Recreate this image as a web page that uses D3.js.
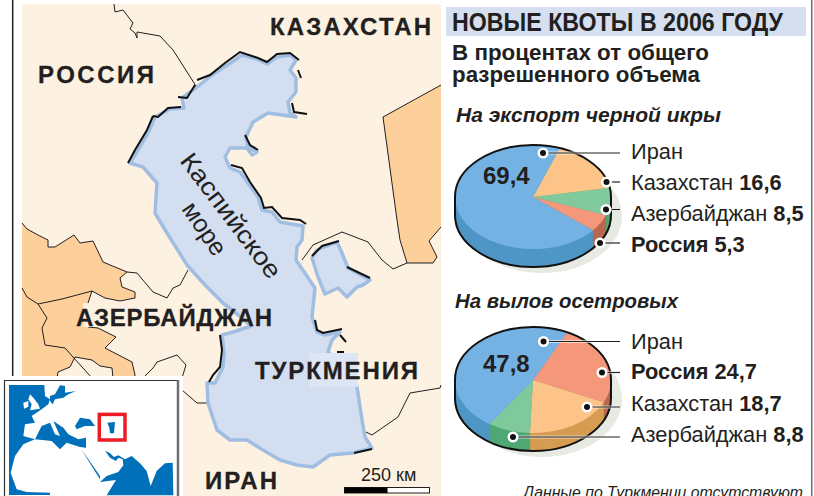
<!DOCTYPE html>
<html>
<head>
<meta charset="utf-8">
<script src="https://cdn.jsdelivr.net/npm/d3@7"></script>
<style>
html, body { margin: 0; padding: 0; background: #fff; }
svg { display: block; font-family: "Liberation Sans", Arial, sans-serif; }
</style>
</head>
<body>
<div id="chart"></div>
<script>
// data
const exportCountries = ["Казахстан", "Азербайджан", "Россия", "Иран"];
const exportValues = [16.6, 8.5, 5.3, 69.4];
const exportRows = ["Иран", "Казахстан", "Азербайджан", "Россия"];

const fishingCountries = ["Россия", "Казахстан", "Азербайджан", "Иран"];
const fishingValues = [24.7, 18.7, 8.8, 47.8];
const fishingRows = ["Иран", "Россия", "Казахстан", "Азербайджан"];

const countryNames = ["Иран", "Казахстан", "Азербайджан", "Россия"];
const topColors = ["#74b2e3", "#fcc488", "#80c99c", "#f5977a"];
const sideColors = ["#4f97c6", "#d69c52", "#4fa874", "#b9674f"];

// map outlines, page pixels
const sea = [[242,55],[257,59],[267,64],[277,57],[290,55],[296,60],[290,70],[296,78],[296,92],[288,102],[290,113],[296,117],[268,113],[253,122],[246,137],[248,147],[257,152],[252,155],[247,148],[230,148],[225,157],[230,168],[240,172],[248,183],[258,197],[262,210],[272,212],[280,222],[303,226],[302,240],[297,247],[296,260],[315,288],[312,317],[317,332],[325,335],[340,332],[332,340],[328,352],[333,357],[348,355],[357,387],[362,420],[365,437],[372,448],[353,453],[330,455],[313,467],[297,465],[280,460],[263,450],[247,440],[230,440],[217,430],[208,403],[207,383],[215,383],[223,367],[224,353],[222,335],[233,332],[251,326],[237,314],[223,303],[205,285],[187,265],[167,233],[155,213],[157,183],[143,167],[130,163],[135,155],[149,131],[155,117],[170,109],[184,108],[182,98],[197,87],[212,75],[229,64]];
const bay = [[312,258],[317,250],[337,242],[342,253],[348,268],[370,280],[363,285],[357,287],[347,297],[338,288],[325,294],[318,277]];
const uzbekistan = [[441,85],[383,117],[397,220],[400,240],[407,263],[433,263],[437,257],[429,241],[441,227]];
const caucasus = [[22,223],[27,229],[38,235],[48,240],[48,247],[55,247],[74,235],[80,243],[93,241],[103,262],[127,272],[120,278],[122,287],[135,292],[135,298],[120,301],[105,298],[92,291],[88,303],[88,327],[98,328],[116,337],[105,348],[132,362],[135,375],[135,378],[113,378],[112,368],[100,366],[92,360],[75,357],[70,367],[58,372],[57,378],[22,378]];
const borders = [
  [[114,4],[115,12],[123,10],[133,23],[130,29],[135,33],[137,38],[137,32],[160,36],[173,50],[196,86]],
  [[127,272],[137,273],[153,292],[167,298],[173,288],[180,285],[188,270]],
  [[22,288],[27,297],[38,304],[62,299],[92,291]],
  [[38,304],[47,318],[42,328],[45,345],[65,348],[73,357],[92,378]],
  [[145,376],[153,368],[157,362],[177,355],[186,365],[182,378]],
  [[182,390],[197,403],[207,403]],
  [[302,260],[313,245],[342,232],[368,242],[382,260],[393,269],[407,263]],
  [[366,432],[372,435],[398,417],[410,393],[440,388],[441,385]]
];
const blackCoast = [
  [[128,163],[135,150],[147,130],[153,116]],
  [[153,116],[158,117],[168,108],[181,107]],
  [[178,97],[187,98],[195,85]],
  [[197,80],[210,75],[225,63],[240,52],[258,58],[267,62],[277,54],[290,53],[299,60]],
  [[298,70],[301,78]],
  [[292,103],[294,112],[307,114]],
  [[231,165],[242,168],[250,182],[261,198],[264,208],[272,207],[282,218],[300,220],[306,224]],
  [[245,135],[250,145],[258,150]],
  [[220,335],[222,350],[220,367],[213,375],[209,382]],
  [[315,320],[317,330],[323,333],[342,329]],
  [[340,335],[346,342]],
  [[337,352],[344,352]],
  [[312,256],[322,246],[339,241]],
  [[347,267],[370,278]],
  [[354,453],[372,449]]
];

// inset outlines, crop units (3x)
const insetSeas = [
  [[27,27],[133,27],[135,60],[150,70],[145,85],[125,100],[95,120],[105,140],[75,145],[70,180],[105,190],[70,205],[45,240],[32,290],[50,340],[80,348],[150,350],[150,357],[27,357]],
  [[150,60],[165,55],[180,28],[195,30],[195,50],[228,45],[205,55],[190,65],[165,70],[158,85],[150,75]],
  [[105,190],[125,150],[150,140],[165,175],[180,180],[160,135],[190,155],[205,175],[235,190],[258,185],[258,215],[240,213],[200,200],[180,220],[155,195]],
  [[225,150],[240,125],[270,130],[285,150],[255,150],[230,160]],
  [[245,222],[265,250],[300,300],[300,310],[275,270]],
  [[300,318],[320,300],[355,288],[370,268],[368,250],[355,245],[348,255],[330,245],[315,224],[330,232],[342,243],[355,238],[375,250],[395,240],[420,262],[440,285],[452,330],[470,285],[495,262],[518,260],[520,358],[320,358],[348,312]],
  [[322,140],[345,138],[342,172],[330,172],[328,155]]
];
const insetWhites = [
  [[90,55],[100,65],[115,85],[120,98],[90,103],[95,85],[85,70]],
  [[70,80],[85,75],[85,92],[72,98]]
];

const W = 814, H = 496;
const svg = d3.select("#chart").append("svg").attr("width", W).attr("height", H);
const ink = "#231f20";
const peach = "#fdf1e2", orange = "#fdd09b";
const line = d3.line();
const closed = d3.line().curve(d3.curveLinearClosed);

// map
const map = svg.append("g");
map.append("rect").attr("x", 22).attr("y", 4).attr("width", 419).attr("height", 492).attr("fill", peach);
map.append("path").attr("d", closed(uzbekistan)).attr("fill", orange);
map.append("path").attr("d", line(uzbekistan)).attr("fill", "none").attr("stroke", ink).attr("stroke-width", 1);
map.append("path").attr("d", closed(caucasus)).attr("fill", orange);
map.append("path").attr("d", line(caucasus.slice(0, -1))).attr("fill", "none").attr("stroke", ink).attr("stroke-width", 1);
map.selectAll("path.border").data(borders).enter().append("path").attr("class", "border")
  .attr("d", line).attr("fill", "none").attr("stroke", ink).attr("stroke-width", 1);

// halo under the label on the orange part
map.append("rect").attr("x", 83).attr("y", 303).attr("width", 150).attr("height", 24).attr("fill", peach);

map.selectAll("path.sea").data([sea, bay]).enter().append("path").attr("class", "sea")
  .attr("d", closed).attr("fill", "#d3dff1").attr("stroke", "#a0bde2").attr("stroke-width", 3.5).attr("stroke-linejoin", "round");
map.selectAll("path.coast").data(blackCoast).enter().append("path").attr("class", "coast")
  .attr("d", line).attr("fill", "none").attr("stroke", "#111").attr("stroke-width", 2);
map.append("rect").attr("x", 310).attr("y", 353).attr("width", 48).attr("height", 34).attr("fill", "#dde6f4");

map.append("line").attr("x1", 12.7).attr("x2", 12.7).attr("y1", 0).attr("y2", 376)
  .attr("stroke", ink).attr("stroke-width", 1.5);
svg.append("line").attr("x1", 811.7).attr("x2", 811.7).attr("y1", 0).attr("y2", H)
  .attr("stroke", "#6d6e71").attr("stroke-width", 1.5);

// map labels
const mapLabels = [
  ["КАЗАХСТАН", 270, 35, 161],
  ["РОССИЯ", 38, 83, 116],
  ["АЗЕРБАЙДЖАН", 76, 326, 196],
  ["ТУРКМЕНИЯ", 255, 379, 163],
  ["ИРАН", 205, 489, 72]
];
map.selectAll("text.country").data(mapLabels).enter().append("text").attr("class", "country")
  .attr("x", d => d[1]).attr("y", d => d[2]).attr("textLength", d => d[3]).attr("lengthAdjust", "spacing")
  .attr("font-size", 24).attr("font-weight", 700).attr("fill", ink).attr("stroke", ink).attr("stroke-width", 0.3).text(d => d[0]);

map.append("text").attr("transform", "translate(179,161) rotate(53)")
  .attr("font-size", 25).attr("fill", ink).attr("textLength", 150).attr("lengthAdjust", "spacingAndGlyphs").text("Каспийское");
map.append("text").attr("transform", "translate(181,209) rotate(56)")
  .attr("font-size", 25).attr("fill", ink).attr("textLength", 59).attr("lengthAdjust", "spacingAndGlyphs").text("море");

// scale bar
map.append("text").attr("x", 361).attr("y", 481).attr("font-size", 18).attr("fill", ink).text("250 км");
map.append("rect").attr("x", 344.5).attr("y", 487.5).attr("width", 85).attr("height", 5.5)
  .attr("fill", "#fff").attr("stroke", ink).attr("stroke-width", 1);
map.append("rect").attr("x", 344.5).attr("y", 487.5).attr("width", 43).attr("height", 5.5).attr("fill", "#000");

// locator inset
const inset = svg.append("g");
const ix = d3.scaleLinear().domain([0, 300]).range([0, 100]);
const iy = d3.scaleLinear().domain([0, 300]).range([376, 476]);
const insetLine = d3.line().x(d => ix(d[0])).y(d => iy(d[1])).curve(d3.curveLinearClosed);
inset.append("rect").attr("x", 0).attr("y", 376).attr("width", 183).attr("height", 120).attr("fill", "#fff");
inset.append("path").attr("d", `M4.5,496V380.5H178`).attr("fill", "none").attr("stroke", "#333").attr("stroke-width", 1.2);
inset.append("path").attr("d", `M178,380V496`).attr("fill", "none").attr("stroke", "#6d6e71").attr("stroke-width", 2.5);
inset.selectAll("path.isea").data(insetSeas).enter().append("path").attr("class", "isea")
  .attr("d", insetLine).attr("fill", "#0070ba");
inset.selectAll("path.iland").data(insetWhites).enter().append("path").attr("class", "iland")
  .attr("d", insetLine).attr("fill", "#fff");
inset.append("rect").attr("x", 99.3).attr("y", 414.4).attr("width", 25.7).attr("height", 25.6)
  .attr("fill", "none").attr("stroke", "#ed1c24").attr("stroke-width", 3.5);

// header
svg.append("rect").attr("x", 446).attr("y", 7).attr("width", 360).attr("height", 29).attr("fill", "#d5dff0");
const heads = [
  ["НОВЫЕ КВОТЫ В 2006 ГОДУ", 452, 31, 331, 25, "normal"],
  ["В процентах от общего", 452, 60, 257, 22, "normal"],
  ["разрешенного объема", 452, 82, 248, 22, "normal"],
  ["На экспорт черной икры", 456, 122, 265, 20, "italic"],
  ["На вылов осетровых", 455, 308, 223, 20, "italic"]
];
svg.selectAll("text.head").data(heads).enter().append("text").attr("class", "head")
  .attr("x", d => d[1]).attr("y", d => d[2]).attr("textLength", d => d[3]).attr("lengthAdjust", "spacingAndGlyphs")
  .attr("font-size", d => d[4]).attr("font-style", d => d[5]).attr("font-weight", 700)
  .attr("fill", ink).text(d => d[0]);
svg.append("text").attr("x", 523).attr("y", 498).attr("font-size", 17).attr("font-style", "italic")
  .attr("textLength", 280).attr("lengthAdjust", "spacingAndGlyphs").attr("fill", ink).text("Данные по Туркмении отсутствуют");

// pies
const topColor = d3.scaleOrdinal(countryNames, topColors);
const sideColor = d3.scaleOrdinal(countryNames, sideColors);
const comma = v => String(v).replace(".", ",");

function drawPie(cfg) {
  const rx = 78, ry = cfg.ry, depth = cfg.depth;
  const g = svg.append("g");
  const start = cfg.startDeg * Math.PI / 180;
  const slices = d3.pie().sort(null).startAngle(start).endAngle(start + 2 * Math.PI)(cfg.values);
  const arc = d3.arc().innerRadius(0).outerRadius(rx);
  const squash = dy => `translate(${cfg.cx},${cfg.cy + dy}) scale(1,${ry / rx})`;

  g.append("ellipse").attr("cx", cfg.cx + 9).attr("cy", cfg.cy + depth + 1).attr("rx", rx + 2).attr("ry", ry + 5)
    .attr("fill", "#e6eae3");

  for (let dy = depth; dy > 0; dy--) {
    g.append("g").attr("transform", squash(dy)).selectAll("path").data(slices).enter().append("path")
      .attr("d", arc).attr("fill", (d, i) => sideColor(cfg.countries[i]))
      .attr("stroke", (d, i) => sideColor(cfg.countries[i])).attr("stroke-width", 0.5);
  }
  g.append("g").attr("transform", squash(0)).selectAll("path").data(slices).enter().append("path")
    .attr("d", arc).attr("fill", (d, i) => topColor(cfg.countries[i]));

  const x0 = cfg.cx - rx, x1 = cfg.cx + rx;
  g.append("path")
    .attr("d", `M${x0},${cfg.cy}A${rx},${ry} 0 0 1 ${x1},${cfg.cy}V${cfg.cy + depth}A${rx},${ry} 0 0 1 ${x0},${cfg.cy + depth}Z`)
    .attr("fill", "none").attr("stroke", "#111").attr("stroke-width", 2);

  g.append("text").attr("x", cfg.cx - 50).attr("y", cfg.valueY).attr("font-size", 24).attr("font-weight", 700)
    .attr("fill", ink).text(comma(cfg.values[cfg.countries.indexOf("Иран")]));

  cfg.rows.forEach((name, i) => {
    const p = cfg.dots[i];
    g.append("line").attr("x1", p[0]).attr("x2", 620).attr("y1", p[1]).attr("y2", p[1])
      .attr("stroke", "#fff").attr("stroke-width", 3).attr("stroke-opacity", 0.6);
    g.append("line").attr("x1", p[0]).attr("x2", 620).attr("y1", p[1]).attr("y2", p[1])
      .attr("stroke", "#222").attr("stroke-width", 1.2);
    g.append("circle").attr("cx", p[0]).attr("cy", p[1]).attr("r", 5.5).attr("fill", "#fff");
    g.append("circle").attr("cx", p[0]).attr("cy", p[1]).attr("r", 3).attr("fill", "#111");

    const t = g.append("text").attr("x", 631).attr("y", cfg.labelY[i]).attr("font-size", 21.8).attr("fill", ink);
    const val = cfg.values[cfg.countries.indexOf(name)];
    if (name === "Россия") {
      t.attr("font-weight", 700).text(`${name} ${comma(val)}`);
    } else if (name === "Иран") {
      t.text(name);
    } else {
      t.append("tspan").text(name + " ");
      t.append("tspan").attr("font-weight", 700).text(comma(val));
    }
  });
}

drawPie({
  cx: 533, cy: 197, ry: 52, depth: 18, startDeg: 20, valueY: 184,
  countries: exportCountries, values: exportValues, rows: exportRows,
  dots: [[543, 153], [606.5, 182], [606, 209.5], [600, 243]],
  labelY: [159, 190, 221, 252]
});
drawPie({
  cx: 533, cy: 380, ry: 53, depth: 18, startDeg: 26, valueY: 372,
  countries: fishingCountries, values: fishingValues, rows: fishingRows,
  dots: [[543.5, 341.5], [602, 372.5], [587, 407], [513, 437]],
  labelY: [349, 379, 411, 442]
});
</script>
</body>
</html>
